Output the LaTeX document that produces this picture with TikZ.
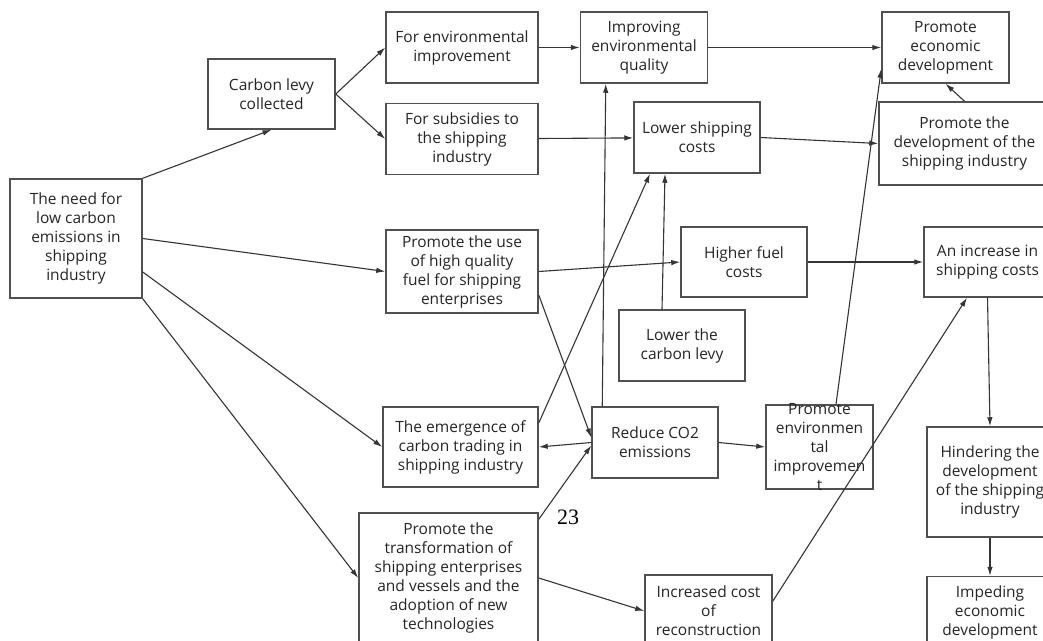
\documentclass[tikz,border=0pt]{standalone}
\usepackage{fontspec}
\setmainfont{Open Sans}
\newfontfamily\pagefont{Liberation Serif}
\usetikzlibrary{arrows.meta,positioning,calc}
\definecolor{ink}{HTML}{262626}
\definecolor{frame}{HTML}{505050}
\definecolor{wire}{HTML}{353535}
\tikzset{
  >={Latex[length=9pt,width=5.5pt]},
  every node/.style={font=\fontsize{15.5}{19}\selectfont,text=ink},
  box/.style={draw=frame,line width=1.5pt,align=center,inner sep=0pt},
  boxtext/.style={align=center,inner sep=0pt},
  arrow/.style={->,line width=1.1pt,draw=wire},
  pagenum/.style={font=\pagefont\fontsize{22}{24}\selectfont,text=black},
}
\begin{document}
\begin{tikzpicture}[x=1pt,y=-1pt]
\useasboundingbox (0,0) rectangle (1043,640);
\clip (0,0) rectangle (1043,640);
\fill[white] (0,0) rectangle (1043,640);

% left column
\node[box,minimum width=132pt,minimum height=119pt] (need) at (76,238.5) {The need for\\low carbon\\emissions in\\shipping\\industry};
\node[box,minimum width=127pt,minimum height=70pt] (levy) at (271.5,94) {Carbon levy\\collected};

% second column
\node[box,minimum width=152pt,minimum height=71pt] (envimpr) at (462,47.5) {For environmental\\improvement};
\node[box,minimum width=152pt,minimum height=71pt,below=19pt of envimpr] (subsid) {For subsidies to\\the shipping\\industry};
\node[box,minimum width=152pt,minimum height=83pt,below=54pt of subsid] (fuel) {Promote the use\\of high quality\\fuel for shipping\\enterprises};
\node[box,minimum width=155pt,minimum height=80pt] (emerg) at (460.5,447) {The emergence of\\carbon trading in\\shipping industry};
\node[box,minimum width=179pt,minimum height=130pt] (transf) at (448.5,578) {Promote the\\transformation of\\shipping enterprises\\and vessels and the\\adoption of new\\technologies};

% middle
\node[box,minimum width=127pt,minimum height=71pt,right=41pt of envimpr] (quality) {Improving\\environmental\\quality};
\node[box,minimum width=126pt,minimum height=71pt] (lowship) at (697,137.5) {Lower shipping\\costs};
\node[box,minimum width=126pt,minimum height=70pt] (fuelcost) at (744,262) {Higher fuel\\costs};
\node[box,minimum width=126pt,minimum height=71pt] (lowlevy) at (682,345.5) {Lower the\\carbon levy};
\node[box,minimum width=126pt,minimum height=71pt] (reduce) at (655,442.5) {Reduce CO2\\emissions};
\node[box,minimum width=107pt,minimum height=84pt] (envprom) at (819.5,447) {};
\node[boxtext] (envpromtext) at (envprom) {Promote\\environmen\\tal\\improvemen\\t};
\node[box,minimum width=127pt,minimum height=72pt] (inccost) at (708.5,611) {Increased cost\\of\\reconstruction};

% right column
\node[box,minimum width=127pt,minimum height=71pt,right=173pt of quality] (econ) {Promote\\economic\\development};
\node[box,minimum width=171pt,minimum height=83pt] (shipdev) at (964.5,143.5) {Promote the\\development of the\\shipping industry};
\node[box,minimum width=127pt,minimum height=70pt] (incship) at (987.5,262) {An increase in\\shipping costs};
\node[box,minimum width=126pt,minimum height=110pt] (hinder) at (990,482) {Hindering the\\development\\of the shipping\\industry};
\node[box,minimum width=126pt,minimum height=72pt,below=38pt of hinder] (imped) {Impeding\\economic\\development};

\node[pagenum] (pageno) at (568,517) {23};

% links
\draw[arrow] (need.north east) -- (levy.south);
\draw[arrow] (levy.east) -- (envimpr.west);
\draw[arrow] (levy.east) -- (subsid.west);
\draw[arrow] (need.east) -- (fuel.west);
\draw[arrow] ($(need.east)+(0,33.5)$) -- (emerg.west);
\draw[arrow] (need.south east) -- (transf.west);
\draw[arrow] (envimpr) -- (quality);
\draw[arrow] (quality) -- (econ);
\draw[arrow] (subsid) -- (lowship);
\draw[arrow] (lowship.east) -- (shipdev.west);
\draw[arrow] (shipdev.north) -- (econ.south);
\draw[arrow] (fuel.east) -- (fuelcost.west);
\draw[arrow] (fuelcost) -- (incship);
\draw[arrow] ($(fuel.east)+(0,23.5)$) -- ($(reduce.west)+(0,-5)$);
\draw[arrow] ($(emerg.east)+(0,-24)$) -- ($(lowship.south)+(-47,0)$);
\draw[arrow] (reduce.west) -- (emerg.east);
\draw[arrow] ($(transf.north east)+(0,7)$) -- ($(reduce.west)+(0,3)$);
\draw[arrow] ($(reduce.north west)+(11,0)$) -- ($(quality.south west)+(26,0)$);
\draw[arrow] ($(lowlevy.north)+(-20,0)$) -- ($(lowship.south)+(-32,0)$);
\draw[arrow] (reduce.east) -- (envprom.west);
\draw[arrow] ($(envprom.north)+(16.5,0)$) -- ($(econ.south west)+(0,-15)$);
\draw[arrow] ($(inccost.north east)+(0,27)$) -- ($(incship.south)+(-20.5,0)$);
\draw[arrow] (incship.south) -- (hinder.north);
\draw[arrow] (hinder) -- (imped);
\draw[arrow] (transf.east) -- (inccost.west);

\end{tikzpicture}
\end{document}
